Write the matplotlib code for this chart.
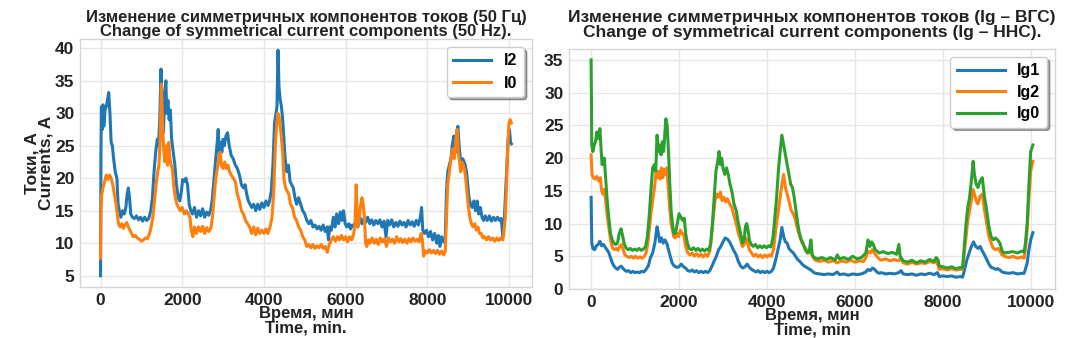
import matplotlib
matplotlib.use("Agg")
import matplotlib.pyplot as plt

# left chart: 50 Hz symmetrical components (time in min, current in A)
I2 = [(0, 5.0), (10, 24), (20, 31), (40, 27.5), (60, 31.3), (80, 28), (110, 30.5), (140, 31), (170, 32),
      (200, 33.2), (230, 30), (260, 25.5), (290, 25), (320, 23), (360, 21), (400, 20), (430, 16), (460, 15),
      (500, 14), (540, 15), (580, 14.5), (620, 15.5), (650, 17.5), (680, 18.5), (710, 17), (740, 14.5),
      (780, 14), (830, 13.8), (880, 14.2), (930, 13.6), (980, 14), (1030, 13.4), (1080, 14), (1130, 13.5),
      (1180, 13.8), (1230, 15), (1270, 17), (1310, 21), (1350, 24), (1390, 26), (1420, 25), (1450, 29),
      (1480, 36.8), (1510, 31), (1540, 27), (1570, 33), (1600, 35), (1620, 30), (1650, 32), (1680, 29),
      (1710, 30.5), (1740, 26), (1780, 24), (1820, 22), (1860, 19), (1900, 17), (1940, 16.5), (1980, 18),
      (2010, 19.8), (2050, 19.5), (2090, 20), (2130, 19), (2170, 16), (2210, 15), (2250, 14.5), (2300, 15.5),
      (2350, 14), (2400, 15), (2450, 14.2), (2500, 15.3), (2550, 14), (2600, 14.8), (2650, 14.3), (2700, 15.2),
      (2740, 17), (2780, 20), (2820, 23), (2850, 25), (2880, 27.5), (2910, 24), (2940, 25.5), (2970, 24),
      (3000, 26), (3030, 25), (3070, 26.5), (3110, 27), (3150, 25), (3200, 23.5), (3250, 23), (3300, 22),
      (3350, 21.5), (3400, 20.5), (3450, 19), (3500, 18.5), (3540, 19), (3580, 17.5), (3620, 16.5),
      (3660, 16), (3700, 15.5), (3750, 16), (3800, 15), (3850, 16), (3900, 15.2), (3950, 16.2), (4000, 15.5),
      (4050, 16.5), (4100, 15.8), (4140, 16.5), (4180, 18), (4220, 22), (4260, 28.5), (4290, 29.8),
      (4320, 31), (4345, 39.7), (4370, 34), (4400, 32), (4430, 31), (4460, 29), (4490, 26), (4520, 23),
      (4560, 21), (4600, 22), (4640, 19.5), (4680, 19), (4720, 18.5), (4760, 17), (4800, 16), (4850, 17),
      (4900, 16), (4950, 15), (5000, 14.5), (5050, 13.5), (5100, 13), (5150, 13.5), (5200, 12.5),
      (5250, 12.8), (5300, 12.2), (5350, 12.6), (5400, 12), (5450, 12.8), (5500, 11.8), (5550, 12.5),
      (5580, 10.5), (5610, 12.5), (5650, 12), (5700, 14), (5740, 12.5), (5780, 14.5), (5830, 13),
      (5870, 14.8), (5910, 13.5), (5950, 15), (5990, 13), (6030, 12.5), (6080, 13), (6120, 12.2),
      (6160, 12.8), (6200, 12.5), (6250, 13.5), (6300, 12.5), (6350, 14), (6400, 13), (6450, 13.8),
      (6490, 13.2), (6540, 14), (6590, 13), (6640, 13.6), (6690, 12.8), (6740, 13.5), (6790, 13),
      (6840, 13.6), (6890, 12.5), (6940, 13.4), (6990, 11), (7030, 13.5), (7080, 12.8), (7130, 13.6),
      (7180, 12.5), (7230, 13.2), (7280, 12.6), (7330, 13.4), (7380, 12.8), (7430, 13.2), (7480, 12.5),
      (7530, 13.5), (7580, 12.8), (7630, 13.3), (7680, 12.6), (7730, 13.5), (7780, 12.8), (7830, 14),
      (7860, 15.5), (7890, 12), (7930, 11.5), (7980, 12), (8030, 11), (8080, 11.8), (8130, 10.5),
      (8180, 11.5), (8230, 10), (8270, 11.2), (8310, 9.5), (8350, 11), (8400, 10.2), (8440, 10.8),
      (8470, 18), (8500, 21), (8540, 22), (8580, 23), (8610, 25), (8650, 26.5), (8690, 24), (8720, 27),
      (8750, 28), (8780, 25), (8810, 23), (8840, 21.5), (8870, 23), (8900, 22.5), (8930, 22), (8960, 21),
      (8990, 19), (9020, 17), (9060, 16), (9100, 15.5), (9140, 16.5), (9180, 15), (9220, 16.5),
      (9260, 14.5), (9300, 15.5), (9340, 14), (9380, 13.5), (9420, 14.2), (9470, 13.5), (9520, 14.2),
      (9570, 13.4), (9620, 14), (9670, 13.5), (9720, 14), (9770, 13.5), (9810, 13.8), (9850, 11),
      (9880, 13), (9910, 17), (9950, 22), (9980, 26), (10010, 27.5), (10040, 25.5), (10060, 25.3)]

I0 = [(0, 7.7), (10, 15), (30, 17.5), (60, 18.5), (100, 19.5), (140, 20.5), (180, 19.8), (220, 20.5),
      (260, 20), (300, 19), (340, 17.5), (380, 16), (410, 14.5), (440, 13), (480, 12.5), (520, 13),
      (560, 12.3), (600, 12.8), (640, 13.2), (680, 12.5), (720, 12), (760, 11.5), (800, 11), (850, 11.2),
      (900, 10.8), (950, 10.6), (1000, 10.3), (1050, 10.5), (1100, 10.8), (1150, 10.7), (1200, 11.5),
      (1240, 12.5), (1280, 14), (1320, 16.5), (1360, 19), (1400, 21), (1430, 22), (1460, 26), (1490, 34.5),
      (1520, 28), (1550, 24), (1580, 22.5), (1610, 25), (1640, 22), (1670, 25.5), (1700, 23), (1730, 22),
      (1760, 21.5), (1790, 19), (1830, 17), (1870, 16), (1910, 15.5), (1950, 15), (2000, 15.5), (2050, 14.5),
      (2100, 15), (2150, 14.5), (2190, 14), (2220, 12), (2260, 11), (2300, 12.5), (2350, 11.5), (2400, 12.5),
      (2450, 11.8), (2500, 12.6), (2550, 11.5), (2600, 12.4), (2650, 11.8), (2700, 12.3), (2740, 14),
      (2780, 17), (2820, 20), (2860, 21.5), (2900, 23.5), (2930, 24), (2960, 22), (3000, 21.5), (3040, 22.5),
      (3080, 21.5), (3120, 22), (3160, 21), (3200, 20.5), (3250, 20), (3300, 19.5), (3350, 17.5), (3400, 16.5),
      (3450, 15), (3500, 14.5), (3550, 13.5), (3600, 13), (3650, 12.5), (3700, 11.5), (3750, 12.5),
      (3800, 11.3), (3850, 12.3), (3900, 11.5), (3950, 12), (4000, 11.5), (4050, 12.2), (4100, 11.5),
      (4150, 12.5), (4200, 14), (4240, 18), (4280, 25), (4310, 28), (4340, 30), (4370, 29.5), (4400, 28),
      (4430, 26), (4460, 24), (4490, 20), (4530, 18.5), (4570, 18), (4610, 17.5), (4650, 16), (4700, 15.5),
      (4750, 14), (4800, 13.5), (4850, 12.5), (4900, 12), (4950, 11), (5000, 10.5), (5050, 9.5), (5100, 9.8),
      (5150, 9.3), (5200, 9.8), (5250, 9.2), (5300, 9.6), (5350, 9.3), (5400, 9.8), (5450, 9.2), (5500, 9.5),
      (5550, 8.6), (5600, 9.8), (5650, 10.5), (5700, 11), (5750, 10.3), (5800, 11), (5850, 10.5),
      (5900, 11.2), (5950, 10.5), (6000, 11), (6050, 10.2), (6100, 11), (6150, 10.5), (6200, 11.5),
      (6230, 13), (6260, 19), (6290, 12.5), (6320, 13), (6360, 15.5), (6400, 17), (6430, 16), (6460, 14),
      (6490, 10), (6520, 9.5), (6560, 10.5), (6600, 10), (6650, 10.8), (6700, 10), (6750, 10.6), (6800, 9.8),
      (6850, 10.8), (6900, 10.2), (6950, 10.7), (7000, 9.5), (7050, 10.8), (7100, 10.2), (7150, 10.6),
      (7200, 10), (7250, 11), (7300, 10.2), (7350, 10.7), (7400, 10.1), (7450, 10.6), (7500, 10),
      (7550, 10.7), (7600, 10.2), (7650, 10.8), (7700, 10.3), (7750, 10.6), (7800, 10.2), (7850, 11.5),
      (7880, 10.5), (7910, 8), (7950, 8.8), (8000, 8.5), (8050, 9), (8100, 8.5), (8150, 8.9), (8200, 8.4),
      (8250, 8.9), (8300, 8.3), (8350, 8.8), (8400, 8.2), (8440, 8.7), (8470, 14), (8500, 19), (8540, 21),
      (8580, 23), (8620, 24.5), (8660, 23), (8700, 26), (8730, 27.5), (8760, 24), (8790, 22.5), (8820, 21),
      (8850, 22.5), (8880, 22), (8910, 21.5), (8940, 20), (8970, 18), (9000, 16), (9040, 14), (9080, 13),
      (9120, 12.5), (9160, 13), (9200, 12), (9240, 12.5), (9280, 11.5), (9320, 11.5), (9360, 10.8),
      (9400, 11), (9450, 10.5), (9500, 11), (9550, 10.5), (9600, 10.8), (9650, 10.3), (9700, 10.8),
      (9750, 10.4), (9800, 10.8), (9850, 10.5), (9880, 12), (9910, 14), (9940, 19), (9970, 25),
      (10000, 28.5), (10030, 29), (10060, 28.5)]

# right chart: Ig components
IG1 = [(0, 14), (15, 7), (40, 6.2), (80, 6), (120, 6.6), (160, 6.8), (200, 7.3), (240, 6.6), (280, 6.8),
       (320, 6.4), (360, 6), (400, 5.6), (440, 4.8), (480, 4), (520, 3.5), (560, 3.2), (600, 3.0), (640, 3.3),
       (680, 3.5), (720, 3.2), (760, 2.9), (800, 2.7), (850, 2.8), (900, 2.5), (950, 2.7), (1000, 2.5),
       (1050, 2.6), (1100, 2.5), (1150, 2.7), (1200, 2.6), (1250, 3), (1300, 3.5), (1350, 4.8), (1400, 5.5),
       (1450, 7), (1500, 9.5), (1530, 8.5), (1560, 7.2), (1600, 7.8), (1640, 7), (1680, 7.5), (1720, 7),
       (1760, 6), (1800, 5), (1840, 4), (1880, 3.6), (1920, 3.4), (1960, 3.3), (2000, 3.4), (2050, 3.8),
       (2100, 3.4), (2150, 3.2), (2200, 2.8), (2250, 2.7), (2300, 2.9), (2350, 2.6), (2400, 2.8), (2450, 2.5),
       (2500, 2.7), (2550, 2.5), (2600, 2.7), (2650, 2.5), (2700, 2.8), (2750, 3.5), (2800, 4.3), (2850, 5),
       (2900, 6), (2950, 6.5), (3000, 7.2), (3050, 7.8), (3100, 7.6), (3150, 7.2), (3200, 6.5), (3250, 5.8),
       (3300, 5.2), (3350, 4.2), (3400, 3.5), (3450, 3.2), (3500, 3.4), (3550, 3.8), (3600, 3.3), (3650, 3),
       (3700, 2.8), (3750, 2.6), (3800, 2.8), (3850, 2.5), (3900, 2.7), (3950, 2.5), (4000, 2.7), (4050, 2.5),
       (4100, 2.7), (4150, 3.2), (4200, 4.5), (4250, 6), (4300, 7.5), (4340, 9.4), (4380, 8), (4420, 7.2),
       (4460, 7), (4500, 6.2), (4550, 5.8), (4600, 5.5), (4650, 5), (4700, 4.5), (4750, 4.2), (4800, 3.8),
       (4850, 3.5), (4900, 3.3), (4950, 3.1), (5000, 2.9), (5050, 2.6), (5100, 2.4), (5200, 2.3), (5300, 2.2),
       (5400, 2.3), (5500, 2.2), (5600, 2.6), (5650, 2.2), (5750, 2.3), (5850, 2.1), (5950, 2.3), (6050, 2.2),
       (6150, 2.3), (6250, 2.6), (6300, 3), (6350, 2.8), (6400, 3.2), (6450, 3), (6500, 2.6), (6550, 2.4),
       (6600, 2.5), (6700, 2.3), (6800, 2.4), (6900, 2.3), (7000, 2.5), (7050, 2.8), (7100, 2.3), (7200, 2.2),
       (7300, 2.3), (7400, 2.1), (7500, 2.3), (7600, 2.2), (7700, 2.4), (7800, 2.2), (7880, 2.5), (7920, 1.9),
       (8000, 2), (8100, 1.9), (8200, 2), (8300, 1.8), (8400, 1.9), (8450, 1.8), (8490, 2.8), (8550, 4.5),
       (8600, 5.5), (8650, 6.5), (8700, 7.2), (8750, 6.5), (8800, 6.2), (8850, 6.5), (8900, 5.8), (8950, 5.2),
       (9000, 4.5), (9050, 3.8), (9100, 3.3), (9150, 3.2), (9200, 3.0), (9250, 3.1), (9300, 2.9), (9350, 2.6),
       (9400, 2.5), (9500, 2.4), (9600, 2.5), (9700, 2.3), (9800, 2.4), (9850, 2.4), (9880, 3), (9920, 4),
       (9960, 6), (10000, 7.5), (10050, 8.6)]

IG2 = [(0, 20.5), (20, 17.5), (50, 17), (90, 16.8), (130, 17.2), (170, 16.5), (210, 17), (240, 15), (270, 14.5),
       (300, 15.2), (330, 13.5), (370, 11), (410, 9), (450, 7.2), (490, 6.2), (530, 6), (570, 6.2), (610, 5.9),
       (650, 6.5), (690, 6.8), (730, 6), (770, 5.2), (810, 5), (860, 4.8), (910, 5), (960, 4.7), (1010, 5),
       (1060, 4.7), (1110, 4.9), (1160, 4.7), (1210, 5), (1250, 5.5), (1290, 7), (1330, 9.5), (1370, 12),
       (1410, 14), (1450, 16), (1480, 18), (1510, 17), (1540, 18), (1570, 16.8), (1600, 18.5), (1630, 17),
       (1660, 18.3), (1690, 17.5), (1720, 18.5), (1750, 16), (1780, 13), (1820, 10), (1850, 9), (1880, 8),
       (1910, 7.8), (1950, 8.5), (1990, 8), (2030, 9), (2070, 8.5), (2110, 8.2), (2150, 6.5), (2200, 5.5),
       (2250, 5.2), (2300, 5.5), (2350, 5), (2400, 5.4), (2450, 5), (2500, 5.3), (2550, 4.9), (2600, 5.3),
       (2650, 5), (2700, 5.8), (2740, 8), (2780, 11), (2820, 13.5), (2860, 14.5), (2900, 14), (2940, 14.8),
       (2980, 13.5), (3020, 14), (3060, 13.3), (3100, 13.8), (3150, 13), (3200, 12.5), (3250, 11.2), (3300, 10),
       (3350, 8.5), (3400, 7.5), (3440, 6.5), (3480, 6.8), (3520, 7.8), (3560, 7), (3600, 6), (3650, 5.5),
       (3700, 5), (3750, 5.3), (3800, 4.9), (3850, 5.2), (3900, 4.8), (3950, 5.2), (4000, 4.9), (4050, 5.2),
       (4100, 5), (4150, 6), (4200, 9), (4250, 11.5), (4300, 14), (4340, 16), (4380, 17.5), (4420, 15.5),
       (4460, 14.5), (4500, 13.5), (4550, 12), (4600, 11.5), (4650, 10.5), (4700, 9), (4750, 8), (4800, 7),
       (4850, 6.5), (4900, 6), (4950, 5.5), (5000, 5.8), (5050, 4.8), (5100, 4.4), (5200, 4.2), (5300, 4.4),
       (5400, 4.1), (5500, 4.3), (5600, 4), (5700, 4.3), (5800, 4.1), (5900, 4.4), (6000, 4.1), (6100, 4.3),
       (6200, 4.2), (6250, 4.8), (6300, 5.8), (6350, 5.5), (6400, 6), (6450, 5.4), (6500, 5), (6550, 4.6),
       (6600, 4.4), (6700, 4.6), (6800, 4.3), (6900, 4.5), (7000, 4.3), (7050, 4.7), (7100, 4), (7200, 3.8),
       (7300, 4.1), (7400, 3.8), (7500, 4), (7600, 3.9), (7700, 4.2), (7800, 4), (7850, 4.4), (7880, 3.8),
       (7920, 3), (8000, 3.1), (8100, 2.9), (8200, 3.1), (8300, 2.9), (8400, 3), (8450, 3), (8490, 5.5),
       (8530, 8), (8570, 10.5), (8610, 12), (8650, 13.5), (8690, 15.2), (8720, 14.5), (8760, 13.5), (8800, 13),
       (8850, 14.2), (8900, 14.5), (8950, 12), (9000, 10), (9050, 8), (9100, 7), (9150, 6.2), (9200, 6),
       (9250, 6.2), (9300, 5.8), (9350, 5.2), (9400, 5), (9500, 4.8), (9600, 5), (9700, 4.7), (9800, 4.9),
       (9850, 4.7), (9880, 6), (9920, 9), (9960, 14), (10000, 18), (10050, 19.5)]

IG0 = [(0, 35), (15, 22), (40, 21), (70, 22), (100, 22.5), (130, 24), (160, 23), (200, 24.5), (230, 21),
       (250, 19), (280, 19.5), (300, 20), (330, 17), (360, 14), (400, 11), (440, 8.5), (480, 7.5), (520, 7),
       (560, 6.8), (600, 7), (640, 8.5), (680, 9.2), (720, 8), (750, 7), (790, 6.3), (840, 6), (890, 6.2),
       (940, 5.9), (990, 6.1), (1040, 5.9), (1090, 6.2), (1140, 5.9), (1190, 6.1), (1240, 6.5), (1280, 8),
       (1320, 11), (1360, 15), (1400, 18.5), (1440, 19), (1470, 18), (1500, 23.5), (1530, 21), (1560, 22),
       (1590, 20.5), (1620, 22.5), (1650, 21), (1680, 24), (1700, 26), (1730, 25), (1760, 21), (1790, 16),
       (1820, 12), (1850, 10), (1880, 8.5), (1920, 8.5), (1960, 10), (2000, 11.5), (2040, 11), (2080, 10.5),
       (2120, 10.8), (2150, 8.5), (2190, 7), (2230, 6.2), (2280, 6), (2330, 6.3), (2380, 5.9), (2430, 6.2),
       (2480, 5.8), (2530, 6.1), (2580, 5.8), (2630, 6.1), (2680, 5.9), (2720, 7), (2760, 10), (2800, 14),
       (2840, 18), (2880, 19.5), (2910, 21), (2940, 19), (2970, 20), (3000, 18.5), (3040, 17.5), (3080, 18.5),
       (3120, 17.5), (3160, 16), (3200, 15), (3250, 13), (3300, 12), (3350, 10), (3400, 8.5), (3440, 7),
       (3480, 7.5), (3510, 9.5), (3540, 10), (3570, 9), (3600, 7.5), (3640, 6.8), (3690, 6.5), (3740, 6.8),
       (3790, 6.3), (3840, 6.6), (3890, 6.3), (3940, 6.6), (3990, 6.3), (4040, 6.6), (4090, 6.4), (4140, 8),
       (4180, 11), (4220, 14), (4260, 18), (4300, 21), (4340, 23.5), (4380, 22), (4420, 20.5), (4460, 19),
       (4500, 17.5), (4540, 16), (4580, 15.5), (4620, 14), (4660, 12), (4700, 10), (4740, 8.5), (4780, 7.5),
       (4820, 7), (4870, 6), (4920, 5.5), (4960, 5.8), (5000, 7.5), (5030, 5.2), (5080, 4.8), (5150, 4.6),
       (5250, 4.8), (5350, 4.5), (5450, 4.8), (5550, 4.4), (5600, 5.2), (5650, 4.6), (5750, 4.8), (5850, 4.5),
       (5950, 5), (6050, 4.6), (6150, 4.8), (6250, 5.5), (6300, 7.5), (6340, 6.5), (6380, 7.2), (6420, 6.8),
       (6460, 6), (6500, 5.8), (6550, 5.5), (6650, 5.7), (6750, 5.4), (6850, 5.6), (6950, 5.3), (7000, 6.8),
       (7030, 5), (7100, 4.3), (7200, 4.1), (7300, 4.4), (7400, 4), (7500, 4.3), (7600, 4.1), (7700, 4.5),
       (7800, 4.2), (7850, 4.8), (7890, 4.5), (7920, 3.5), (8000, 3.4), (8100, 3.2), (8200, 3.4), (8300, 3.1),
       (8400, 3.3), (8450, 3.2), (8490, 6.5), (8530, 10), (8570, 12.5), (8610, 14), (8650, 16.5), (8690, 19.5),
       (8720, 17.5), (8760, 16), (8800, 15.5), (8850, 16.5), (8900, 17), (8950, 14), (9000, 12), (9050, 9.5),
       (9100, 8), (9150, 7.5), (9200, 7.8), (9250, 7.5), (9300, 7), (9350, 5.8), (9400, 5.5), (9500, 5.6),
       (9600, 5.7), (9700, 5.5), (9800, 5.8), (9850, 5.6), (9880, 7), (9920, 10), (9960, 16), (10000, 21),
       (10050, 22)]

LEFT_TITLE = "Изменение симметричных компонентов токов (50 Гц)\nChange of symmetrical current components (50 Hz)."
RIGHT_TITLE = "Изменение симметричных компонентов токов (Ig – ВГС)\nChange of symmetrical current components (Ig – ННС)."

plt.rcParams['font.family'] = ['Liberation Sans', 'DejaVu Sans']
plt.rcParams['font.weight'] = 'bold'
plt.rcParams['axes.titleweight'] = 'bold'
plt.rcParams['axes.labelweight'] = 'bold'

TXT = '#222222'
GRID = '#e6e6e6'
EDGE = '#d5d5d5'


def split(points):
    return [p[0] for p in points], [p[1] for p in points]


def style(ax):
    ax.set_facecolor('white')
    ax.grid(True, color=GRID, linewidth=1.0)
    ax.set_axisbelow(True)
    for s in ax.spines.values():
        s.set_color(EDGE)
        s.set_linewidth(1.0)
    ax.tick_params(length=0, labelsize=12.5, colors=TXT, pad=4)
    ax.set_xticks([0, 2000, 4000, 6000, 8000, 10000])


fig = plt.figure(figsize=(10.68, 3.38), dpi=100)
ax1 = fig.add_axes([0.0749, 0.151, 0.4232, 0.7337])
ax2 = fig.add_axes([0.5328, 0.145, 0.455, 0.71])

for pts, name, col in [(I2, 'I2', '#1f77b4'), (I0, 'I0', '#ff7f0e')]:
    t, v = split(pts)
    ax1.plot(t, v, color=col, linewidth=2.2, label=name)
style(ax1)
ax1.set_yticks([5, 10, 15, 20, 25, 30, 35, 40])
ax1.set_title(LEFT_TITLE, fontsize=12, color=TXT, pad=2, linespacing=0.95)
ax1.set_xlabel("Время, мин\nTime, min.", fontsize=12, color=TXT, labelpad=-1, linespacing=0.95)
ax1.set_ylabel("Токи, А\nCurrents, A", fontsize=12.5, color=TXT, labelpad=1, linespacing=0.95)
ax1.legend(loc='upper right', fontsize=11.5, shadow=True, frameon=True, handlelength=2.4,
           borderpad=0.4, labelspacing=0.45, framealpha=1.0, edgecolor='#cccccc')

for pts, name, col in [(IG1, 'Ig1', '#1f77b4'), (IG2, 'Ig2', '#ff7f0e'), (IG0, 'Ig0', '#2ca02c')]:
    t, v = split(pts)
    ax2.plot(t, v, color=col, linewidth=2.2, label=name)
style(ax2)
ax2.set_yticks([0, 5, 10, 15, 20, 25, 30, 35])
ax2.set_title(RIGHT_TITLE, fontsize=12.5, color=TXT, pad=9, linespacing=0.95)
ax2.set_xlabel("Время, мин\nTime, min", fontsize=12, color=TXT, labelpad=-1, linespacing=0.95)
ax2.legend(loc='upper right', fontsize=11.5, shadow=True, frameon=True, handlelength=3.0,
           borderpad=0.4, labelspacing=0.4, framealpha=1.0, edgecolor='#cccccc')

fig.savefig('out.png', dpi=100, facecolor='white')
